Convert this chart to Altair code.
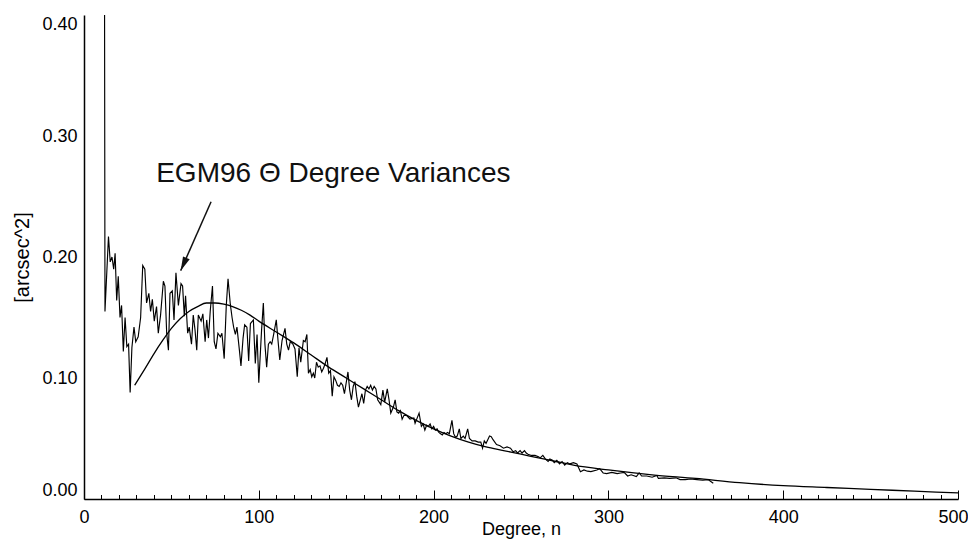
import altair as alt
import pandas as pd

# ---------------- data ----------------
# EGM96 degree variances (noisy series); values > 0.40 lie above the plot
noisy_n = [2, 3, 4, 5, 6, 7, 8, 9, 10, 11,
           12, 14, 15, 16, 17, 17.8, 18.7, 19.6, 20.6, 21.5, 22.5, 23.5, 24.5, 25.5,
           26.4, 27.4, 28.6, 29.6, 31, 32.4, 33.6, 34.8, 35.8, 37.1, 38.1, 39.1, 40.2,
           41.5, 42.5, 43.8, 45.4, 46.3, 47.3, 48.3, 49.2, 50.5, 51.5, 52.6, 54, 55.5,
           56.4, 57.4, 58.1, 59.3, 60.2, 61.5, 62.5, 63.5, 64.5, 65.4, 67, 68, 69.3,
           70.2, 71.2, 72.2, 73.5, 74.5, 75.5, 76.6, 78, 78.9, 80.2, 81.4, 82.4, 83.7,
           84.7, 85.6, 86.6, 87.5, 88.9, 89.8, 91, 91.9, 93.2, 94.2, 95.2, 96.9, 98,
           99, 100, 101.6, 102.6, 103.5, 104.5, 105.5, 106.5, 107.4, 108.5, 110, 111,
           112, 113.3, 115, 116, 117, 118, 119.5, 120.7, 122, 123, 124, 125.5, 126.5,
           127.5, 128.4, 129.4, 130.3, 131.2, 132, 133, 134, 135, 136, 137, 138, 139,
           140, 141, 142, 143, 144, 145, 146, 147, 148, 149, 151, 152, 153, 154, 155,
           156, 157, 159, 160, 161, 162, 163, 164, 165, 166, 167, 168, 169.8, 171, 172,
           173.5, 174.5, 175.5, 177, 178, 179, 180, 181, 182, 183, 184.6, 186.5, 188.7,
           189.4, 191.7, 193, 194, 195, 196, 197, 198, 199, 200, 201, 202, 203, 204,
           205, 206, 207, 208, 209, 210.5, 211.5, 212.5, 213.5, 214.7, 215.6, 217, 218,
           219.5, 220.5, 222, 223.8, 225.5, 227, 228, 229, 230, 231, 232, 233, 234, 236,
           238, 240, 242, 244, 245.5, 247, 248, 249.5, 250.6, 252, 253, 254, 256, 258,
           260, 261, 262.5, 264, 265.5, 266.5, 268, 269, 270.5, 272, 273.5, 275, 276.5,
           278, 280, 282, 284, 286, 288, 290, 293.4, 295, 297, 299, 302, 305, 307, 309,
           311, 313, 316, 317.6, 319, 322, 325, 327.7, 328.6, 332, 335, 338.7, 341, 344,
           347, 350.7, 354, 357, 360]
noisy_v = [2.5, 1.8, 1.4, 1.1, 0.95, 0.85, 0.75, 0.7, 0.8, 1.2,
           0.155, 0.217, 0.196, 0.2, 0.19, 0.203, 0.164, 0.184, 0.15, 0.16, 0.122, 0.15,
           0.126, 0.128, 0.088, 0.125, 0.142, 0.13, 0.134, 0.15, 0.193, 0.19, 0.162,
           0.17, 0.155, 0.165, 0.147, 0.159, 0.137, 0.152, 0.180, 0.176, 0.137, 0.123,
           0.17, 0.172, 0.148, 0.187, 0.16, 0.178, 0.176, 0.151, 0.168, 0.137, 0.142,
           0.128, 0.152, 0.14, 0.123, 0.152, 0.147, 0.153, 0.13, 0.148, 0.133, 0.155,
           0.176, 0.13, 0.124, 0.137, 0.134, 0.137, 0.116, 0.16, 0.182, 0.161, 0.15,
           0.142, 0.136, 0.142, 0.123, 0.11, 0.133, 0.144, 0.142, 0.114, 0.145, 0.148,
           0.112, 0.136, 0.096, 0.14, 0.162, 0.128, 0.109, 0.128, 0.13, 0.128, 0.136,
           0.148, 0.131, 0.115, 0.131, 0.141, 0.128, 0.123, 0.13, 0.128, 0.124, 0.101,
           0.125, 0.113, 0.131, 0.13, 0.136, 0.104, 0.107, 0.101, 0.104, 0.1, 0.113,
           0.109, 0.11, 0.105, 0.108, 0.112, 0.117, 0.104, 0.106, 0.085, 0.101, 0.098,
           0.094, 0.093, 0.096, 0.094, 0.087, 0.105, 0.09, 0.082, 0.093, 0.097, 0.085,
           0.076, 0.087, 0.079, 0.09, 0.093, 0.091, 0.094, 0.09, 0.093, 0.091, 0.082,
           0.078, 0.09, 0.08, 0.091, 0.082, 0.071, 0.076, 0.082, 0.072, 0.071, 0.073,
           0.066, 0.069, 0.069, 0.066, 0.067, 0.0625, 0.071, 0.06, 0.062, 0.057, 0.061,
           0.06, 0.062, 0.058, 0.06, 0.057, 0.058, 0.055, 0.054, 0.053, 0.055, 0.054,
           0.055, 0.054, 0.065, 0.054, 0.051, 0.052, 0.058, 0.05, 0.052, 0.05, 0.058,
           0.05, 0.048, 0.048, 0.047, 0.047, 0.042, 0.048, 0.046, 0.049, 0.052, 0.0515,
           0.049, 0.045, 0.044, 0.042, 0.043, 0.042, 0.039, 0.04, 0.038, 0.04, 0.038,
           0.04, 0.038, 0.037, 0.036, 0.036, 0.035, 0.034, 0.036, 0.033, 0.031, 0.033,
           0.032, 0.030, 0.032, 0.029, 0.031, 0.028, 0.03, 0.029, 0.03, 0.029, 0.0226,
           0.024, 0.023, 0.0226, 0.024, 0.025, 0.0215, 0.021, 0.022, 0.021, 0.0215,
           0.022, 0.019, 0.020, 0.0185, 0.0215, 0.019, 0.019, 0.018, 0.0195, 0.017,
           0.0175, 0.017, 0.0175, 0.016, 0.016, 0.0165, 0.016, 0.0155, 0.016, 0.013]

# smooth model curve
model_n = [29, 35, 40, 45, 50, 55, 60, 65, 70, 75, 80, 85, 90, 95, 100, 110, 120, 130,
           140, 150, 160, 170, 180, 190, 200, 210, 220, 230, 240, 250, 260, 270, 280,
           300, 325, 350, 375, 400, 425, 450, 475, 500]
model_v = [0.094, 0.108, 0.120, 0.131, 0.141, 0.149, 0.155, 0.159, 0.162, 0.162,
           0.161, 0.159, 0.156, 0.152, 0.147, 0.138, 0.129, 0.119, 0.109, 0.100,
           0.091, 0.082, 0.073, 0.065, 0.058, 0.052, 0.047, 0.043, 0.040, 0.037,
           0.034, 0.031, 0.028, 0.024, 0.020, 0.017, 0.0135, 0.011, 0.0095, 0.008,
           0.0065, 0.005]

# axis ticks (major every 100 / 0.1, minor every 10)
x_ticks = list(range(0, 501, 10))
y_ticks = [0.0, 0.1, 0.2, 0.3, 0.4]

# annotation
label_text = ["EGM96 \u0398 Degree Variances"]
label_n = [41.3]
label_v = [0.2622]
arrow_from_n, arrow_from_v = [72.7], [0.2457]
arrow_to_n, arrow_to_v = [55.3], [0.1887]

# ---------------- chart ----------------
W, H = 874, 484
FONT = "Liberation Sans"
xs = alt.Scale(domain=[0, 500], nice=False, zero=False)
ys = alt.Scale(domain=[0, 0.4], nice=False, zero=False)

# inward x ticks: dashed grid lines showing only their last few pixels (at the axis)
maj_dash = f"[0, {H - 9}, 9, 3000]"
min_dash = f"[0, {H - 4.5}, 4.5, 3000]"
x_axis = alt.Axis(values=x_ticks, format="d", ticks=False, tickSize=0,
                  grid=True, gridColor="black", gridWidth=1, gridOpacity=1,
                  gridDash=alt.expr(f"datum.value % 100 == 0 ? {maj_dash} : {min_dash}"),
                  labelExpr="datum.value % 100 == 0 ? datum.label : ''",
                  labelPadding=9, labelFont=FONT, labelFontSize=18, labelColor="black",
                  labelFlush=False, labelOverlap=False,
                  labelOffset=alt.expr("datum.value == 500 ? -5 : 0"),
                  domainColor="black", domainWidth=1.5,
                  title="Degree, n", titleFont=FONT, titleFontSize=18,
                  titleFontWeight="normal", titleColor="black",
                  titleX=W / 2, titleY=35, titleAlign="center",
                  titleBaseline="alphabetic")
y_axis = alt.Axis(values=y_ticks, format=".2f", ticks=False, tickSize=0, grid=False,
                  labelPadding=7, labelFont=FONT, labelFontSize=18, labelColor="black",
                  labelFlush=True, labelOverlap=False,
                  domainColor="black", domainWidth=1.5,
                  title="[arcsec^2]", titleFont=FONT, titleFontSize=20,
                  titleFontWeight="normal", titleColor="black", titlePadding=9)

X = lambda f: alt.X(f, scale=xs, axis=x_axis)
Y = lambda f: alt.Y(f, scale=ys, axis=y_axis)

noisy_df = pd.DataFrame({"n": noisy_n, "v": noisy_v})
model_df = pd.DataFrame({"n": model_n, "v": model_v})

noisy = alt.Chart(noisy_df).mark_line(color="black", strokeWidth=1.15, clip=True).encode(
    x=X("n:Q"), y=Y("v:Q"))
model = alt.Chart(model_df).mark_line(color="black", strokeWidth=1.3,
                                      interpolate="monotone", clip=True).encode(
    x=X("n:Q"), y=Y("v:Q"))

ann_df = pd.DataFrame({"text": label_text, "n": label_n, "v": label_v})
text = alt.Chart(ann_df).mark_text(align="left", baseline="alphabetic", font=FONT,
                                    fontSize=28, color="#111111").encode(
    x=X("n:Q"), y=Y("v:Q"), text="text:N")

arrow_df = pd.DataFrame({"n": arrow_from_n, "v": arrow_from_v,
                         "n2": arrow_to_n, "v2": arrow_to_v})
arrow_line = alt.Chart(arrow_df).mark_rule(color="#111111", strokeWidth=1.5).encode(
    x=X("n:Q"), y=Y("v:Q"), x2="n2:Q", y2="v2:Q")
arrow_head = alt.Chart(arrow_df).mark_point(
    shape="M0,0 L-0.26,-1 L0.26,-1 Z", filled=True, size=784, angle=24,
    color="#111111", opacity=1, strokeWidth=0).encode(
    x=X("n2:Q"), y=Y("v2:Q"))

chart = alt.layer(
    noisy, model, text, arrow_line, arrow_head,
).properties(
    width=W, height=H,
    autosize=alt.AutoSizeParams(type="none"),
    padding={"left": 76, "top": 7, "right": 10, "bottom": 40},
).configure_view(strokeWidth=0, stroke="transparent")

chart.save("out.html", embed_options={"renderer": "svg", "actions": False})
